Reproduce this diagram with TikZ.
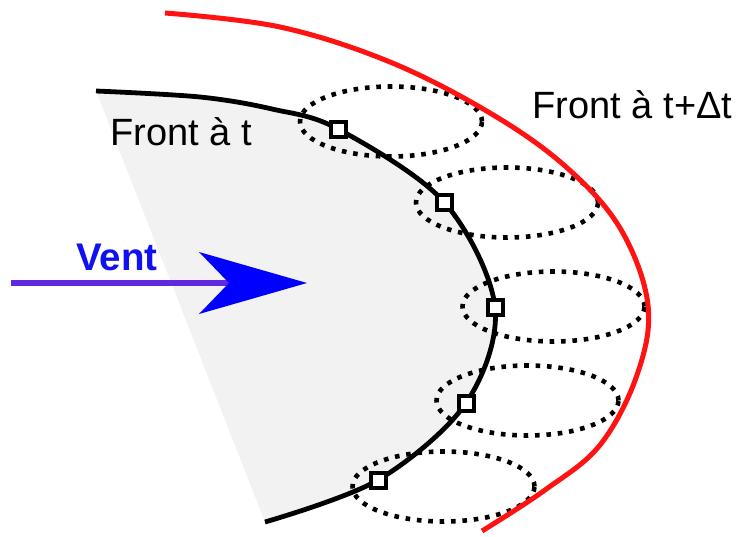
\documentclass[tikz,border=0pt]{standalone}
\usepackage{fontspec}
\setmainfont{Liberation Sans}
\definecolor{frontred}{RGB}{255,18,18}
\definecolor{windpurple}{RGB}{98,40,224}
\definecolor{windblue}{RGB}{0,0,255}
\definecolor{textblue}{RGB}{16,16,240}
\definecolor{zonegray}{RGB}{242,242,242}
\begin{document}
\begin{tikzpicture}[x=1pt,y=-1pt,
  dotell/.style={draw=black, line width=4.6pt, dash pattern=on 4.6pt off 6.8pt},
  frontnew/.style={draw=frontred, line width=5pt},
  frontold/.style={draw=black, line width=4.8pt},
  sqmark/.style={rectangle, draw=black, fill=white, line width=4pt, minimum size=15pt, inner sep=0pt},
  lbl/.style={font=\fontsize{38}{44}\selectfont, inner sep=0pt, anchor=base},
  shaft/.style={draw=windpurple, line width=6.8pt},
  head/.style={fill=windblue}]
\useasboundingbox (0,0) rectangle (739,536);
% burnt zone
\fill[zonegray] plot[smooth, tension=0.55] coordinates {(96,91) (200,97) (272,109) (338,129) (444,202) (495,307) (466,403) (378,480) (265,522)} -- cycle;
% dotted ellipses
\foreach \cx/\cy in {391/121.5, 507/202.5, 553.5/306.5, 527.5/400.5, 443.5/486.5}
  \draw[dotell] (\cx,\cy) ellipse [x radius=91pt, y radius=35pt];
% new front
\draw[frontnew] plot[smooth, tension=0.6] coordinates {(165,13) (280,27) (390,62) (490,113) (565,166) (620,228) (648,305) (637,375) (600,445) (545,490) (482,531)};
% old front
\draw[frontold] plot[smooth, tension=0.55] coordinates {(96,91) (200,97) (272,109) (338,129) (444,202) (495,307) (466,403) (378,480) (265,522)};
% markers
\node[sqmark] (s1) at (338,129) {};
\node[sqmark] (s2) at (444,202) {};
\node[sqmark] (s3) at (495,307) {};
\node[sqmark] (s4) at (466,403) {};
\node[sqmark] (s5) at (378,480) {};
% wind arrow
\coordinate (windstart) at (11,283);
\coordinate (windnotch) at (229,283);
\coordinate (windtip) at (307,283);
\coordinate (headtop) at (199,252);
\coordinate (headbot) at (199,314);
\draw[shaft] (windstart) -- (windnotch);
\fill[head] (headtop) -- (windtip) -- (headbot) -- (windnotch) -- cycle;
% labels
\node[lbl, text=textblue, font=\fontsize{38.5}{44}\selectfont\bfseries] (vent) at (117,270) {Vent};
\node[lbl] (front) at (181,145) {Front à t};
\node[lbl] (frontdt) at (632.5,118) {Front à t+Δt};
\end{tikzpicture}
\end{document}
